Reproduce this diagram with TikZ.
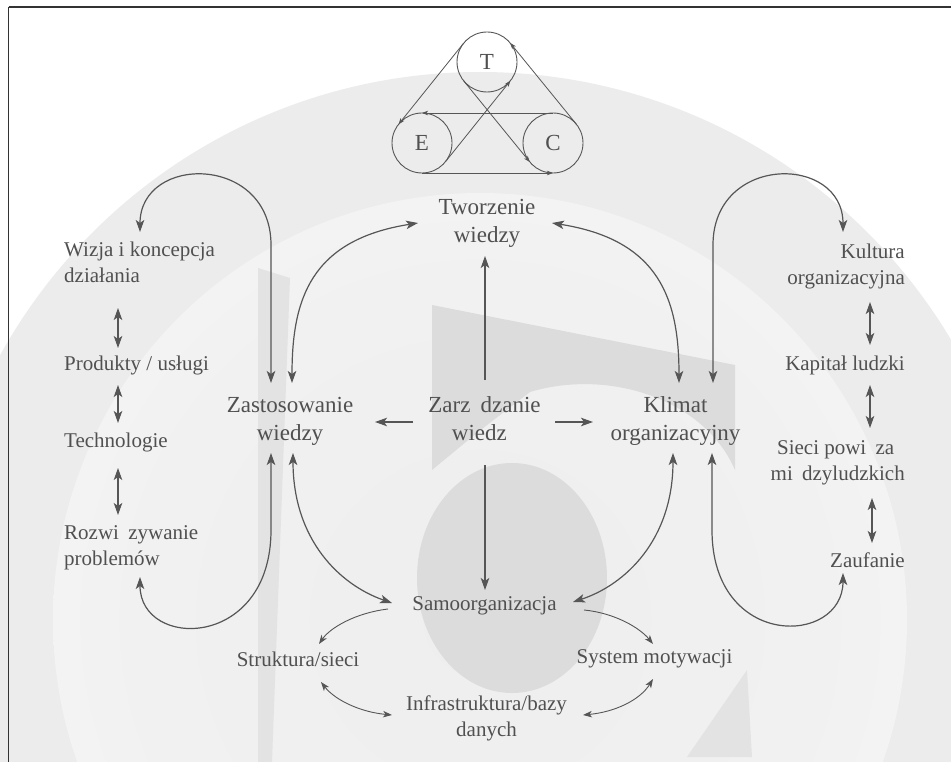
\documentclass[tikz,border=0pt]{standalone}
\usepackage{fontspec}
\setmainfont{Liberation Serif}
\usetikzlibrary{arrows.meta,calc}
\definecolor{txt}{HTML}{505050}
\definecolor{ln}{HTML}{565656}
\definecolor{band}{HTML}{ECECEC}
\definecolor{logo}{HTML}{DCDCDC}
\definecolor{strip}{HTML}{E3E3E3}
\definecolor{discmid}{HTML}{EEEEEE}
\definecolor{discmid2}{HTML}{F1F1F1}
\definecolor{discrim}{HTML}{F8F8F8}
\definecolor{discwhite}{HTML}{FFFFFF}
\pgfdeclareradialshading{innerdisc}{\pgfpoint{0bp}{0bp}}{color(0bp)=(discmid); color(20bp)=(discmid2); color(36bp)=(discrim); color(50bp)=(discwhite)}
\begin{document}
\begin{tikzpicture}[x=1pt,y=-1pt,
  big/.style={inner sep=0pt, text=txt, font=\fontsize{23}{28}\selectfont, align=center},
  lab/.style={inner sep=0pt, text=txt, font=\fontsize{21}{26}\selectfont},
  tec/.style={circle, draw=ln, line width=0.9pt, minimum size=60pt, inner sep=0pt, text=txt, font=\fontsize{23}{28}\selectfont},
  conn/.style={draw=ln, line width=1.2pt},
  sarr/.style={conn, -{Stealth[length=12pt,width=8.5pt,inset=3pt]}},
  darr/.style={conn, {Stealth[length=12pt,width=8.5pt,inset=3pt]}-{Stealth[length=12pt,width=8.5pt,inset=3pt]}},
  sarrs/.style={draw=ln, line width=0.9pt, -{Stealth[length=9pt,width=6.5pt,inset=2.5pt]}},
  darrs/.style={draw=ln, line width=0.9pt, {Stealth[length=9pt,width=6.5pt,inset=2.5pt]}-{Stealth[length=9pt,width=6.5pt,inset=2.5pt]}},
  tecarr/.style={draw=ln, line width=0.8pt, -{Stealth[length=6pt,width=4.5pt,inset=1.5pt]}}
]
\useasboundingbox (0,0) rectangle (951,762);
% ---- background watermark ----
\begin{scope}
  \clip (0,0) rectangle (951,762);
  \fill[white] (0,0) rectangle (951,762);
  \fill[band] (480,620) circle (548pt);
  \shade[shading=innerdisc] (480,620) circle (427pt);
  \fill[strip] (258,268) -- (290,278) -- (272,762) -- (258,762) -- cycle;
  \fill[logo] (432,305) -- (735,365) -- (735,470) .. controls (705,400) and (610,368) .. (530,392) -- (478,432) -- (432,470) -- cycle;
  \fill[logo] (512,578) ellipse [x radius=95pt, y radius=115pt];
  \fill[strip] (687,757) -- (747,670) -- (752,757) -- cycle;
\end{scope}
% ---- frame ----
\draw[line width=1.3pt, black!80] (8.5,7) -- (951,7);
\draw[line width=1.3pt, black!80] (8.5,7) -- (8.5,762);
% ---- TEC ----
\node[tec] (T) at (487,62) {T};
\node[tec] (E) at (422,143) {E};
\node[tec] (C) at (553,143) {C};
\draw[tecarr] ($(T.center)!30pt!-90:(E.center)$) -- ($(E.center)!30pt!90:(T.center)$);
\draw[tecarr] ($(C.center)!30pt!-90:(T.center)$) -- ($(T.center)!30pt!90:(C.center)$);
\draw[tecarr] ($(E.center)!30pt!-90:(C.center)$) -- ($(C.center)!30pt!90:(E.center)$);
\draw[tecarr] ($(C.center)!30pt!-90:(E.center)$) -- ($(E.center)!30pt!90:(C.center)$);
\draw[tecarr] ($(E.center)!30pt!-90:(T.center)$) -- ($(T.center)!30pt!90:(E.center)$);
\draw[tecarr] ($(T.center)!30pt!-90:(C.center)$) -- ($(C.center)!30pt!90:(T.center)$);
% ---- nodes (base = baseline of last line) ----
\node[big, anchor=base] (tworz) at (487,243) {Tworzenie\\wiedzy};
\node[big, anchor=base] (zarz) at (484.5,440) {Zarz\phantom{ą}dzanie\\wiedz\phantom{ą}};
\node[big, anchor=base] (zast) at (290,440) {Zastosowanie\\wiedzy};
\node[big, anchor=base] (klim) at (675.5,440) {Klimat\\organizacyjny};
\node[lab, anchor=base] (samo) at (484.5,610) {Samoorganizacja};
\node[lab, anchor=base] (strk) at (298,666) {Struktura/sieci};
\node[lab, anchor=base] (syst) at (654.5,663) {System motywacji};
\node[lab, align=center, anchor=base] (infr) at (486.5,736) {Infrastruktura/bazy\\danych};
\node[lab, align=left, anchor=base west] (wizja) at (64,283) {Wizja i koncepcja\\działania};
\node[lab, anchor=base west] (prod) at (64,370) {Produkty / usługi};
\node[lab, anchor=base west] (tech) at (64,447) {Technologie};
\node[lab, align=left, anchor=base west] (rozw) at (64,565) {Rozwi\phantom{ą}zywanie\\problemów};
\node[lab, align=right, anchor=base east] (kult) at (905,284) {Kultura\\organizacyjna};
\node[lab, anchor=base east] (kap) at (905,370) {Kapitał ludzki};
\node[lab, align=right, anchor=base east] (sieci) at (905,480) {Sieci powi\phantom{ą}za\phantom{ń}\\mi\phantom{ę}dzyludzkich};
\node[lab, anchor=base east] (zauf) at (905,567) {Zaufanie};
% ---- centre connectors ----
\draw[sarr] ([shift={(0.5,-60)}]zarz.base) -- ([shift={(-2,13)}]tworz.base);
\draw[sarr] ([shift={(0.5,25)}]zarz.base) -- ([shift={(0.5,-20)}]samo.base);
\draw[sarr] ([shift={(-71.5,-18)}]zarz.base) -- ([shift={(85,-18)}]zast.base);
\draw[sarr] ([shift={(70.5,-18)}]zarz.base) -- ([shift={(-82.5,-18)}]klim.base);
\draw[darr] ([shift={(-69,-20)}]tworz.base) .. controls +(-108,17) and +(0,-83) .. ([shift={(2,-57)}]zast.base);
\draw[darr] ([shift={(65,-20)}]tworz.base) .. controls +(108,17) and +(0,-83) .. ([shift={(3.5,-57)}]klim.base);
\draw[darr] ([shift={(3,13)}]zast.base) .. controls +(0,87) and +(-52,-18) .. ([shift={(-92.5,-7)}]samo.base);
\draw[darr] ([shift={(-2.5,13)}]klim.base) .. controls +(0,87) and +(52,-17) .. ([shift={(88.5,-8)}]samo.base);
% ---- bottom connectors ----
\draw[sarrs] ([shift={(-96.5,-1)}]samo.base) .. controls +(-33,4) and +(11,-16) .. ([shift={(21,-22)}]strk.base);
\draw[sarrs] ([shift={(99.5,0)}]samo.base) .. controls +(31,3) and +(-13,-16) .. ([shift={(-1.5,-19)}]syst.base);
\draw[darrs] ([shift={(23,16)}]strk.base) .. controls +(14,18) and +(-32,-3) .. ([shift={(-94.5,-21)}]infr.base);
\draw[darrs] ([shift={(-1.5,16)}]syst.base) .. controls +(-13,21) and +(32,-3) .. ([shift={(96.5,-21)}]infr.base);
% ---- loops ----
\draw[darr] ([shift={(-19,-57)}]zast.base) -- ++(0,-138) .. controls +(0,-91) and +(0,-78) .. ([shift={(76,-51)}]wizja.base west);
\draw[darr] ([shift={(-19,13)}]zast.base) -- ++(0,77) .. controls +(0,120) and +(0,73) .. ([shift={(76,12)}]rozw.base west);
\draw[darr] ([shift={(37.5,-57)}]klim.base) -- ++(0,-138) .. controls +(0,-91) and +(0,-78) .. ([shift={(-62,-52)}]kult.base east);
\draw[darr] ([shift={(36.5,13)}]klim.base) -- ++(0,77) .. controls +(0,120) and +(0,73) .. ([shift={(-62,6)}]zauf.base east);
% ---- column arrows ----
\draw[darr] ([shift={(54,25)}]wizja.base west) -- ([shift={(54,-22)}]prod.base west);
\draw[darr] ([shift={(54,15)}]prod.base west) -- ([shift={(54,-24)}]tech.base west);
\draw[darr] ([shift={(54,21)}]tech.base west) -- ([shift={(54,-50)}]rozw.base west);
\draw[darr] ([shift={(-35,18)}]kult.base east) -- ([shift={(-35,-25)}]kap.base east);
\draw[darr] ([shift={(-35,15)}]kap.base east) -- ([shift={(-35,-52)}]sieci.base east);
\draw[darr] ([shift={(-33,18)}]sieci.base east) -- ([shift={(-33,-24)}]zauf.base east);
\end{tikzpicture}
\end{document}
